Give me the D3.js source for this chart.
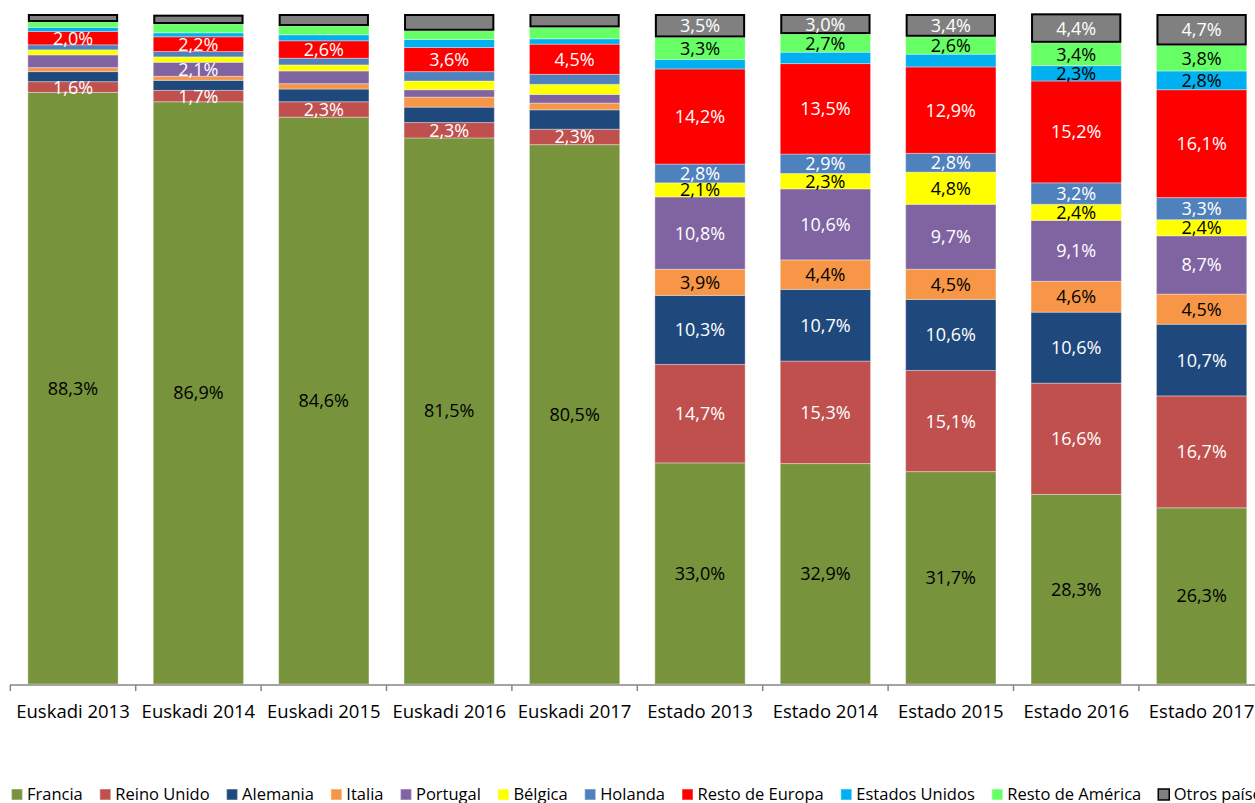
<!DOCTYPE html>
<html lang="es">
<head>
  <meta charset="UTF-8">
  <title>Mercados emisores</title>
  <script src="https://d3js.org/d3.v7.min.js"></script>
  <style>
    body { margin: 0; background: #fff; }
    text { font-family: "Open Sans", sans-serif; }
  </style>
</head>
<body>
  <svg width="1255" height="803"></svg>
  <script>
    // categories and series (percentages)
    const categories = ["Euskadi 2013", "Euskadi 2014", "Euskadi 2015", "Euskadi 2016", "Euskadi 2017",
      "Estado 2013", "Estado 2014", "Estado 2015", "Estado 2016", "Estado 2017"];

    const seriesNames = ["Francia", "Reino Unido", "Alemania", "Italia", "Portugal", "Bélgica",
      "Holanda", "Resto de Europa", "Estados Unidos", "Resto de América", "Otros países"];

    const francia        = [88.3, 86.9, 84.6, 81.5, 80.5, 33.0, 32.9, 31.7, 28.3, 26.3];
    const reinoUnido     = [1.6, 1.7, 2.3, 2.3, 2.3, 14.7, 15.3, 15.1, 16.6, 16.7];
    const alemania       = [1.5, 1.5, 1.9, 2.3, 2.9, 10.3, 10.7, 10.6, 10.6, 10.7];
    const italia         = [0.6, 0.6, 0.8, 1.5, 1.0, 3.9, 4.4, 4.5, 4.6, 4.5];
    const portugal       = [1.9, 2.1, 1.9, 1.1, 1.3, 10.8, 10.6, 9.7, 9.1, 8.7];
    const belgica        = [0.75, 0.8, 0.9, 1.3, 1.5, 2.1, 2.3, 4.8, 2.4, 2.4];
    const holanda        = [0.75, 0.8, 1.0, 1.4, 1.5, 2.8, 2.9, 2.8, 3.2, 3.3];
    const restoEuropa    = [2.0, 2.2, 2.6, 3.6, 4.5, 14.2, 13.5, 12.9, 15.2, 16.1];
    const estadosUnidos  = [0.6, 0.6, 0.9, 1.2, 0.8, 1.4, 1.7, 1.9, 2.3, 2.8];
    const restoAmerica   = [0.8, 1.3, 1.3, 1.3, 1.7, 3.3, 2.7, 2.6, 3.4, 3.8];
    const otros          = [1.2, 1.4, 1.8, 2.5, 2.0, 3.5, 3.0, 3.4, 4.4, 4.7];

    // which data labels are shown (1 = shown)
    const labelFrancia   = [1, 1, 1, 1, 1, 1, 1, 1, 1, 1];
    const labelReino     = [1, 1, 1, 1, 1, 1, 1, 1, 1, 1];
    const labelAlemania  = [0, 0, 0, 0, 0, 1, 1, 1, 1, 1];
    const labelItalia    = [0, 0, 0, 0, 0, 1, 1, 1, 1, 1];
    const labelPortugal  = [0, 1, 0, 0, 0, 1, 1, 1, 1, 1];
    const labelBelgica   = [0, 0, 0, 0, 0, 1, 1, 1, 1, 1];
    const labelHolanda   = [0, 0, 0, 0, 0, 1, 1, 1, 1, 1];
    const labelEuropa    = [1, 1, 1, 1, 1, 1, 1, 1, 1, 1];
    const labelEEUU      = [0, 0, 0, 0, 0, 0, 0, 0, 1, 1];
    const labelAmerica   = [0, 0, 0, 0, 0, 1, 1, 1, 1, 1];
    const labelOtros     = [0, 0, 0, 0, 0, 1, 1, 1, 1, 1];

    const colors = ["#77933C", "#C0504D", "#1F497D", "#F79646", "#8064A2", "#FFFF00",
      "#4F81BD", "#FF0000", "#00B0F0", "#66FF66", "#808080"];
    const labelColors = ["#000", "#fff", "#fff", "#000", "#fff", "#000",
      "#fff", "#fff", "#000", "#000", "#fff"];

    const values = [francia, reinoUnido, alemania, italia, portugal, belgica,
      holanda, restoEuropa, estadosUnidos, restoAmerica, otros];
    const labels = [labelFrancia, labelReino, labelAlemania, labelItalia, labelPortugal, labelBelgica,
      labelHolanda, labelEuropa, labelEEUU, labelAmerica, labelOtros];

    const table = categories.map((c, i) => {
      const row = { cat: c };
      seriesNames.forEach((s, j) => row[s] = values[j][i]);
      return row;
    });

    const stack = d3.stack().keys(seriesNames)(table);

    const svg = d3.select("svg");
    const x = d3.scaleBand().domain(categories).range([10.3, 1264.3])
      .paddingInner(0.28).paddingOuter(0.14);
    const y = d3.scaleLinear().domain([0, 100]).range([684, 14]);

    const fmt = v => d3.format(".1f")(v).replace(".", ",") + "%";

    const layer = svg.append("g").selectAll("g")
      .data(stack)
      .enter().append("g")
      .attr("fill", (d, i) => colors[i]);

    layer.selectAll("rect")
      .data(d => d)
      .enter().append("rect")
      .attr("x", d => x(d.data.cat))
      .attr("width", x.bandwidth())
      .attr("y", d => y(d[1]))
      .attr("height", d => y(d[0]) - y(d[1]))
      .attr("stroke", "rgba(255,255,255,0.35)")
      .attr("stroke-width", 1);

    // "Otros países" has a black border
    layer.filter((d, i) => i === seriesNames.length - 1).selectAll("rect")
      .attr("stroke", "#000").attr("stroke-width", 2)
      .attr("x", d => x(d.data.cat) + 1)
      .attr("width", x.bandwidth() - 2)
      .attr("y", d => y(d[1]) + 1)
      .attr("height", d => y(d[0]) - y(d[1]) - 2);

    // data labels
    stack.forEach((s, j) => {
      svg.append("g").selectAll("text")
        .data(s.filter((d, i) => labels[j][i]))
        .enter().append("text")
        .attr("x", d => x(d.data.cat) + x.bandwidth() / 2)
        .attr("y", d => (y(d[0]) + y(d[1])) / 2)
        .attr("dy", "0.36em")
        .attr("text-anchor", "middle")
        .attr("font-size", 18)
        .attr("fill", labelColors[j])
        .text(d => fmt(d[1] - d[0]));
    });

    // x axis
    const axis = svg.append("g").attr("transform", "translate(0,685)");
    axis.append("line")
      .attr("x1", 10).attr("x2", 1264)
      .attr("stroke", "#868686").attr("stroke-width", 1.5);
    axis.selectAll("line.tick")
      .data(d3.range(categories.length + 1))
      .enter().append("line")
      .attr("class", "tick")
      .attr("x1", i => 10.3 + i * x.step()).attr("x2", i => 10.3 + i * x.step())
      .attr("y1", 0).attr("y2", 6)
      .attr("stroke", "#868686").attr("stroke-width", 1.5);
    axis.selectAll("text")
      .data(categories)
      .enter().append("text")
      .attr("x", d => x(d) + x.bandwidth() / 2)
      .attr("y", 33)
      .attr("text-anchor", "middle")
      .attr("font-size", 18.5)
      .attr("fill", "#000")
      .text(d => d);

    // legend
    const legend = svg.append("g").attr("transform", "translate(11.5,800)");
    let lx = 0;
    seriesNames.forEach((s, i) => {
      const g = legend.append("g").attr("transform", `translate(${lx},0)`);
      g.append("rect")
        .attr("x", 0).attr("y", -11).attr("width", 11).attr("height", 11)
        .attr("fill", colors[i])
        .attr("stroke", i === seriesNames.length - 1 ? "#000" : "rgba(255,255,255,0.35)")
        .attr("stroke-width", 1.5);
      const t = g.append("text")
        .attr("x", 15.5).attr("y", 0)
        .attr("font-size", 16.5)
        .text(s);
      lx += 15.5 + t.node().getComputedTextLength() + 17;
    });
  </script>
</body>
</html>
